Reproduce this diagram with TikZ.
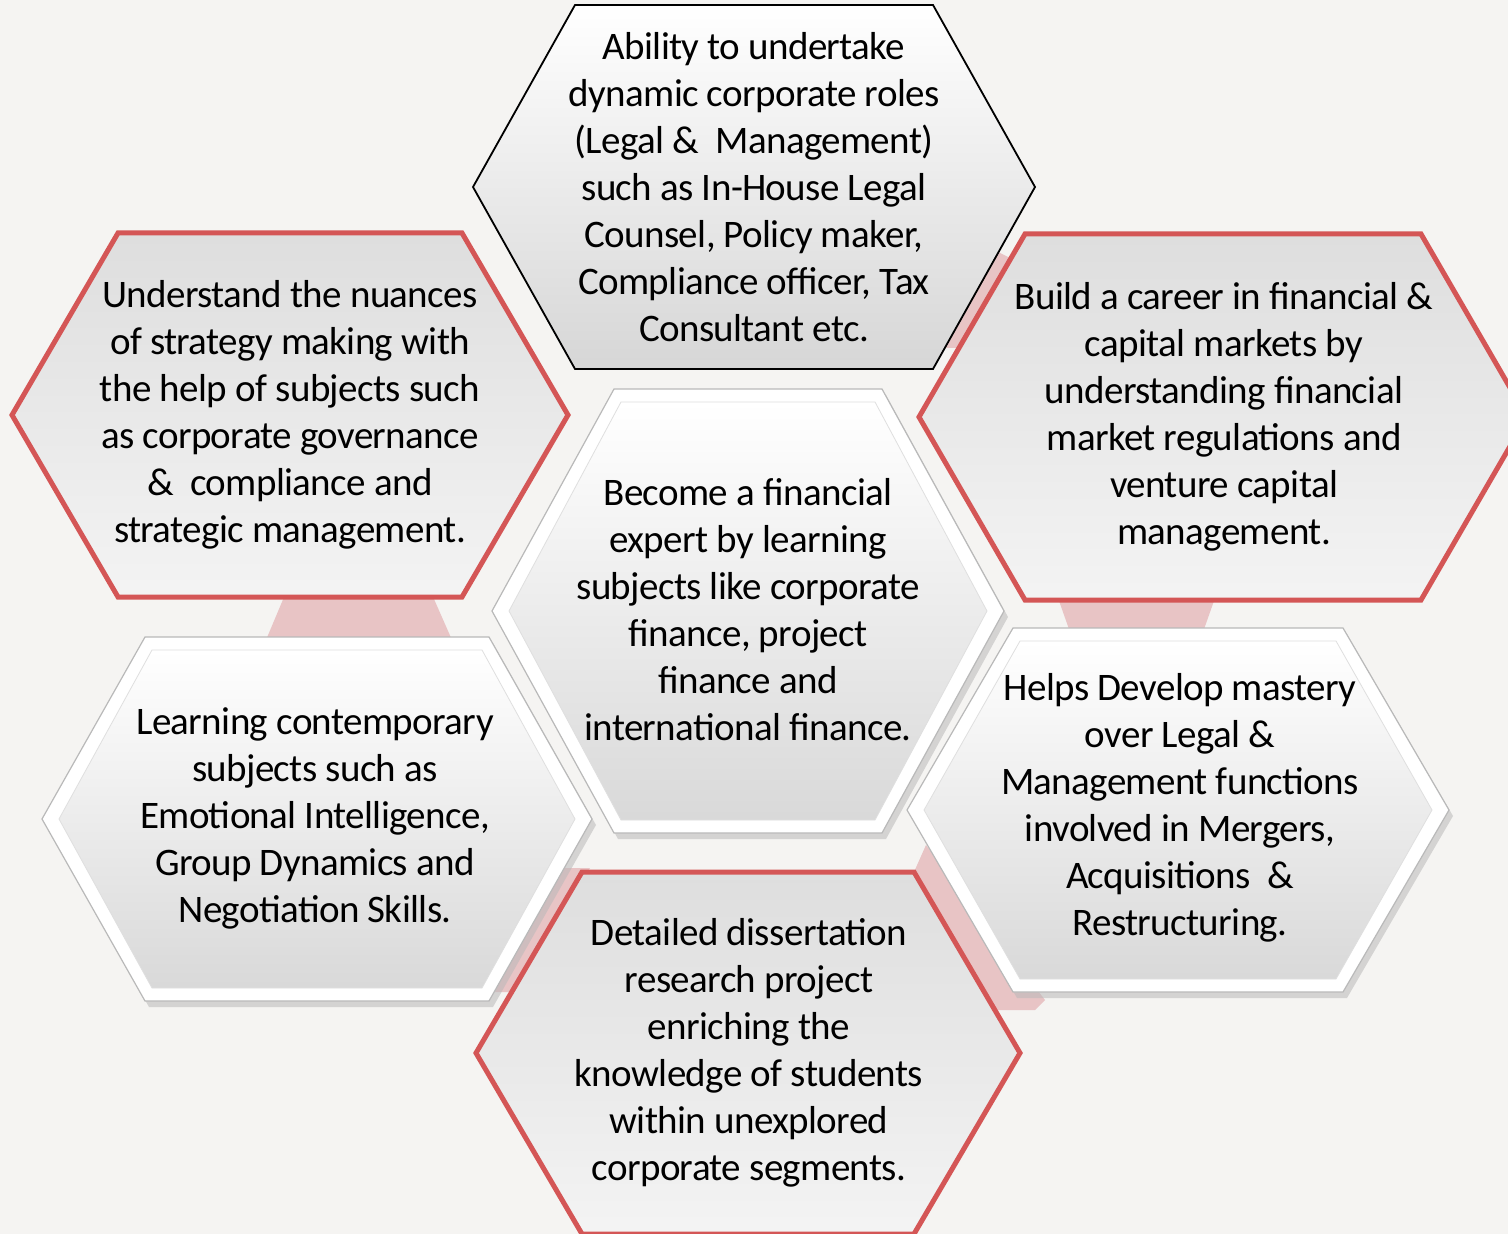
\documentclass[tikz,border=0pt]{standalone}
\usepackage{fontspec}
\setmainfont{Carlito}[LetterSpace=-1.6]
\newcommand{\hexpath}[5]{({#1-(#3)},{#2}) -- ({#1-(#4)},{#2-(#5)}) -- ({#1+(#4)},{#2-(#5)}) -- ({#1+(#3)},{#2}) -- ({#1+(#4)},{#2+(#5)}) -- ({#1-(#4)},{#2+(#5)}) -- cycle}
\definecolor{paper}{RGB}{245,244,242}
\definecolor{hexred}{RGB}{212,86,86}
\definecolor{linkpink}{RGB}{232,196,197}
\tikzset{
  redhex/.style={draw=hexred, line width=2.5pt, line join=miter, top color=gray!26, bottom color=gray!9},
  blackhex/.style={draw=black, line width=0.9pt, top color=white, bottom color=gray!32},
  bevelshadow/.style={fill=gray!55, opacity=0.55},
  bevelrim/.style={draw=gray!55, line width=0.6pt, fill=white},
  bevelface/.style={draw=gray!25, line width=0.4pt, top color=white, bottom color=gray!30},
  link/.style={fill=linkpink, draw=none},
  hextext/.style={align=center, font=\fontsize{19.5}{23.5}\selectfont}
}
\begin{document}
\begin{tikzpicture}[x=0.5pt, y=-0.5pt]
      \fill[paper] (0,0) rectangle (1508,1234);
      \useasboundingbox (0,0) rectangle (1508,1234);
      % pink links behind the cells
      \fill[link] (287,590) -- (430,590) -- (452,640) -- (266,640) -- cycle;
      \fill[link] (1058,598) -- (1215,598) -- (1203,632) -- (1070,632) -- cycle;
      \fill[link] (990,248) -- (1010,258) -- (958,348) -- (940,348) -- cycle;
      \fill[link] (914,872) -- (926,845) -- (1045,1000) -- (1035,1010) -- (990,1010) -- cycle;
      \fill[link] (545,868) -- (590,868) -- (520,992) -- (495,992) -- cycle;
      % outer ring
      \draw[blackhex] \hexpath{754}{187}{281}{179}{182};
      \draw[redhex] \hexpath{290}{415}{278}{172}{182};
      \draw[redhex] \hexpath{1223}{417}{304}{198}{183};
      \draw[redhex] \hexpath{748}{1053}{272}{166}{181};
      \foreach \cx/\cy/\a/\b/\h in {748/611/256/134/222, 317/819/275/172/182, 1178/810/271/165/182} {
        \fill[bevelshadow] \hexpath{\cx+4}{\cy+6}{\a}{\b}{\h};
        \draw[bevelrim] \hexpath{\cx}{\cy}{\a}{\b}{\h};
        \draw[bevelface] \hexpath{\cx}{\cy}{\a-17}{\b-7}{\h-13};
      }
      % texts
      \node[hextext] (ability) at (754,187) {Ability to undertake\\dynamic corporate roles\\(Legal \& \ Management)\\such as In-House Legal\\Counsel, Policy maker,\\Compliance officer, Tax\\Consultant etc.};
      \node[hextext] (strategy) at (290,415) {Understand the nuances\\of strategy making with\\the help of subjects such\\as corporate governance\\\& \ compliance and\\strategic management.};
      \node[hextext] (career) at (1224,417) {Build a career in financial \&\\capital markets by\\understanding financial\\market regulations and\\venture capital\\management.};
      \node[hextext] (expert) at (748,610) {Become a financial\\expert by learning\\subjects like corporate\\finance, project\\finance and\\international finance.};
      \node[hextext] (contemporary) at (315,818) {Learning contemporary\\subjects such as\\Emotional Intelligence,\\Group Dynamics and\\Negotiation Skills.};
      \node[hextext] (mastery) at (1180,808) {Helps Develop mastery\\over Legal \&\\Management functions\\involved in Mergers,\\Acquisitions \ \&\\Restructuring.};
      \node[hextext] (dissertation) at (749,1053) {Detailed dissertation\\research project\\enriching the\\knowledge of students\\within unexplored\\corporate segments.};
    \end{tikzpicture}
\end{document}
